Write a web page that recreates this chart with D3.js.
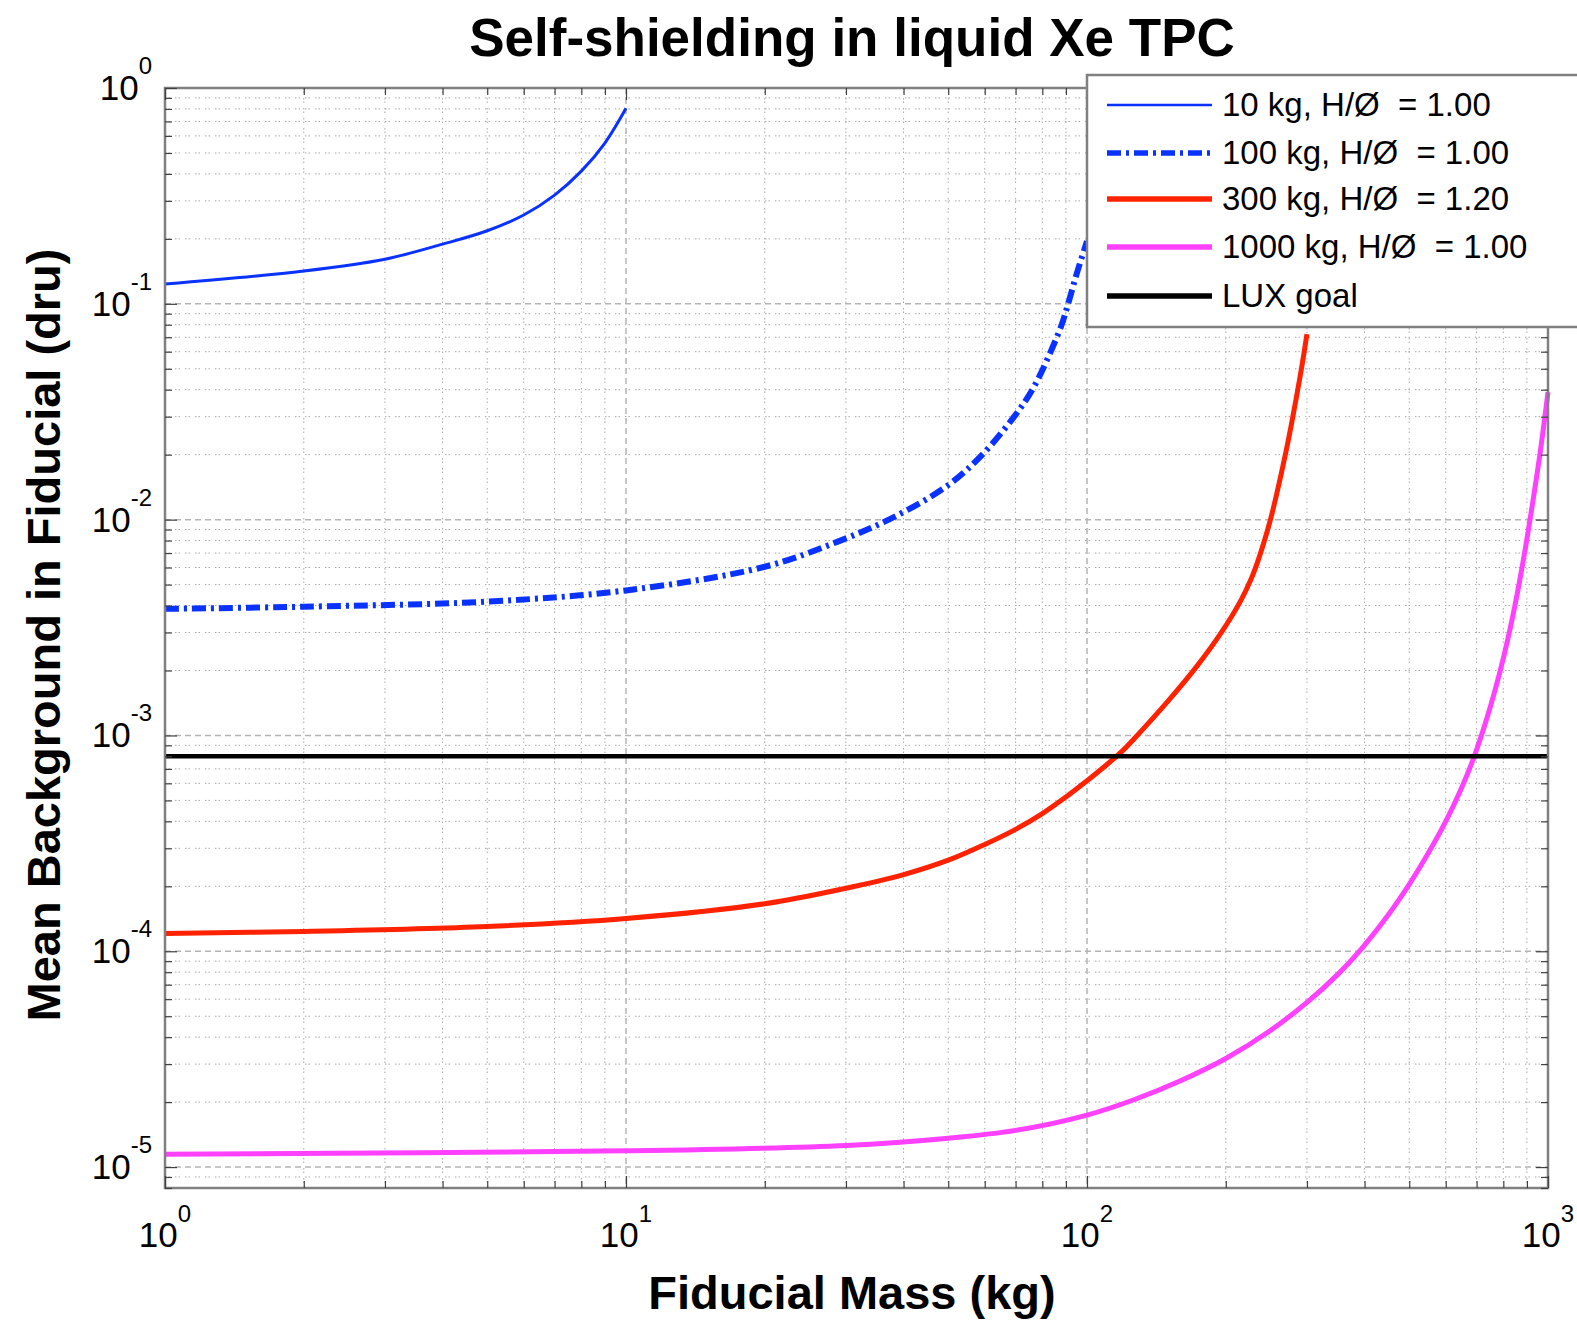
<!DOCTYPE html>
<html>
<head>
<meta charset="utf-8">
<script src="https://cdn.jsdelivr.net/npm/d3@7"></script>
<style>
  body { margin: 0; background: #fff; }
  svg { display: block; font-family: "Liberation Sans", Arial, Helvetica, sans-serif; }
</style>
</head>
<body>
<div id="chart"></div>
<script>
// fiducial mass (kg) vs mean background in fiducial (dru), one pair of arrays per detector
const mass10 = [1, 2, 3, 4, 5, 6, 7, 8, 9, 10];
const bkg10  = [0.1235, 0.142, 0.161, 0.189, 0.218, 0.258, 0.319, 0.412, 0.556, 0.805];

const mass100 = [1, 2, 5, 10, 20, 28.8, 38.2, 50, 59, 69.5, 76, 81.5, 88, 91, 95, 100];
const bkg100  = [3.86e-3, 3.95e-3, 4.17e-3, 4.70e-3, 6.05e-3, 7.91e-3, 1.03e-2, 1.445e-2, 1.98e-2,
                 3.0e-2, 3.98e-2, 5.37e-2, 7.94e-2, 0.1, 0.138, 0.195];

const mass300 = [1, 2, 5, 10, 20, 30, 40, 50, 60, 70, 80, 90, 100, 110, 115, 120, 126, 150, 173,
                 196, 215, 227, 235, 242, 250, 258, 270, 278, 290, 297, 300];
const bkg300  = [1.21e-4, 1.236e-4, 1.303e-4, 1.419e-4, 1.66e-4, 1.959e-4, 2.265e-4, 2.642e-4, 3.126e-4,
                 3.673e-4, 4.345e-4, 5.188e-4, 6.166e-4, 7.278e-4, 7.889e-4, 8.57e-4, 9.55e-4, 1.445e-3,
                 2.089e-3, 3.02e-3, 4.17e-3, 5.31e-3, 6.46e-3, 7.85e-3, 1.0e-2, 1.318e-2, 2.051e-2,
                 2.812e-2, 4.624e-2, 6.31e-2, 7.24e-2];

const mass1000 = [1, 10, 30, 50, 70, 100, 126, 160, 200, 250, 300, 350, 393, 450, 500, 550, 600,
                  650, 692, 740, 784, 820, 857, 896, 930, 965, 1000];
const bkg1000  = [1.146e-5, 1.189e-5, 1.259e-5, 1.361e-5, 1.479e-5, 1.742e-5, 2.046e-5, 2.518e-5, 3.184e-5,
                  4.295e-5, 5.794e-5, 7.816e-5, 1.021e-4, 1.472e-4, 2.042e-4, 2.851e-4, 3.999e-4, 5.741e-4,
                  8.0e-4, 1.236e-3, 1.919e-3, 2.851e-3, 4.498e-3, 7.674e-3, 1.265e-2, 2.158e-2, 3.9e-2];

const luxGoal = 8e-4;

const seriesNames = ["10 kg, H/Ø  = 1.00", "100 kg, H/Ø  = 1.00", "300 kg, H/Ø  = 1.20", "1000 kg, H/Ø  = 1.00", "LUX goal"];
const xTickExp = [0, 1, 2, 3];
const yTickExp = [0, -1, -2, -3, -4, -5];

const W = 1577, H = 1321;
const plot = {left: 165, right: 1548, top: 88, bottom: 1188};

const svg = d3.select("#chart").append("svg")
    .attr("width", W)
    .attr("height", H);

const x = d3.scaleLog().domain([1, 1000]).range([plot.left, plot.right]);
const y = d3.scaleLog().domain([8e-6, 1]).range([plot.bottom, plot.top]);

const isDecade = v => Math.abs(Math.log10(v) - Math.round(Math.log10(v))) < 1e-6;

const xAll = x.ticks(), yAll = y.ticks();
const xMinor = xAll.filter(v => !isDecade(v)), xMajor = xAll.filter(isDecade);
const yMinor = yAll.filter(v => !isDecade(v)), yMajor = yAll.filter(isDecade);

// grid: dotted at minor ticks, dashed at decades
const grid = svg.append("g");
function gridLines(vals, vertical, color, w, dash) {
  grid.selectAll(null).data(vals).enter().append("line")
      .attr("x1", d => vertical ? x(d) : plot.left)
      .attr("x2", d => vertical ? x(d) : plot.right)
      .attr("y1", d => vertical ? plot.top : y(d))
      .attr("y2", d => vertical ? plot.bottom : y(d))
      .attr("stroke", color).attr("stroke-width", w)
      .attr("stroke-dasharray", dash);
}
gridLines(xMinor, true, "#a8a8a8", 1, "1.5,2,1.5,5");
gridLines(yMinor, false, "#a8a8a8", 1, "1.5,2,1.5,5");
gridLines(xMajor, true, "#b4b4b4", 1.5, "6,4");
gridLines(yMajor, false, "#b4b4b4", 1.5, "6,4");

// curves
const line = d3.line()
    .x(d => x(d[0]))
    .y(d => y(d[1]))
    .curve(d3.curveCatmullRom.alpha(0.5));

const series = [
  {m: mass10,   b: bkg10,   color: "#0a32ff", w: 3, dash: null},
  {m: mass100,  b: bkg100,  color: "#0a32ff", w: 6, dash: "14,5,3,5"},
  {m: mass300,  b: bkg300,  color: "#ff2200", w: 5, dash: null},
  {m: mass1000, b: bkg1000, color: "#ff40ff", w: 5, dash: null}
];

series.forEach(s => {
  svg.append("path")
      .datum(s.m.map((m, i) => [m, s.b[i]]))
      .attr("d", line)
      .attr("fill", "none")
      .attr("stroke", s.color)
      .attr("stroke-width", s.w)
      .attr("stroke-dasharray", s.dash);
});

// LUX goal level
svg.append("line")
    .attr("x1", x(1)).attr("x2", x(1000))
    .attr("y1", y(luxGoal)).attr("y2", y(luxGoal))
    .attr("stroke", "#000").attr("stroke-width", 4.5);

// frame
svg.append("rect")
    .attr("x", plot.left).attr("y", plot.top)
    .attr("width", plot.right - plot.left).attr("height", plot.bottom - plot.top)
    .attr("fill", "none").attr("stroke", "#808080").attr("stroke-width", 2.5);

// inward ticks on all four sides
function ticks(axis, tx, ty) {
  const horiz = axis === d3.axisBottom || axis === d3.axisTop;
  [[xMinor, yMinor, 7], [xMajor, yMajor, 12]].forEach(([xv, yv, len]) => {
    const g = svg.append("g")
        .attr("transform", `translate(${tx},${ty})`)
        .call(axis(horiz ? x : y).tickValues(horiz ? xv : yv).tickSize(-len).tickFormat(""));
    g.select(".domain").remove();
    g.selectAll(".tick line").attr("stroke", "#404040").attr("stroke-width", 1.2);
  });
}
ticks(d3.axisBottom, 0, plot.bottom);
ticks(d3.axisTop, 0, plot.top);
ticks(d3.axisLeft, plot.left, 0);
ticks(d3.axisRight, plot.right, 0);

// tick labels, 10 with superscript exponent
xTickExp.forEach(e => {
  const t = svg.append("text")
      .attr("x", x(Math.pow(10, e)))
      .attr("y", plot.bottom + 59)
      .attr("text-anchor", "middle");
  t.append("tspan").attr("font-size", 35).text("10");
  t.append("tspan").attr("font-size", 24).attr("dy", -25).text(e);
});
yTickExp.forEach(e => {
  const t = svg.append("text")
      .attr("x", 152)
      .attr("y", y(Math.pow(10, e)) + 12)
      .attr("text-anchor", "end");
  t.append("tspan").attr("font-size", 35).text("10");
  t.append("tspan").attr("font-size", 24).attr("dy", -26).text(e);
});

// titles
svg.append("text")
    .attr("x", 852).attr("y", 56)
    .attr("text-anchor", "middle")
    .attr("font-size", 53).attr("font-weight", "bold")
    .text("Self-shielding in liquid Xe TPC");

svg.append("text")
    .attr("x", 852).attr("y", 1309)
    .attr("text-anchor", "middle")
    .attr("font-size", 47).attr("font-weight", "bold")
    .text("Fiducial Mass (kg)");

svg.append("text")
    .attr("transform", "translate(60,635) rotate(-90)")
    .attr("text-anchor", "middle")
    .attr("font-size", 47).attr("font-weight", "bold")
    .text("Mean Background in Fiducial (dru)");

// legend (opaque, covers the curve tips underneath)
const legend = svg.append("g");
legend.append("rect")
    .attr("x", 1087).attr("y", 75)
    .attr("width", 520).attr("height", 252)
    .attr("fill", "#fff").attr("stroke", "#808080").attr("stroke-width", 2.5);

const legendStyles = series.map(s => ({color: s.color, w: s.w === 3 ? 2.5 : 5.5, dash: s.dash}))
    .concat([{color: "#000", w: 5.5, dash: null}]);
const rowY = [105, 153, 199, 247, 296];

seriesNames.forEach((name, i) => {
  const st = legendStyles[i];
  legend.append("line")
      .attr("x1", 1107).attr("x2", 1212)
      .attr("y1", rowY[i]).attr("y2", rowY[i])
      .attr("stroke", st.color).attr("stroke-width", st.w)
      .attr("stroke-dasharray", st.dash);
  legend.append("text")
      .attr("x", 1222).attr("y", rowY[i] + 11)
      .attr("font-size", 33)
      .style("white-space", "pre")
      .text(name);
});
</script>
</body>
</html>
